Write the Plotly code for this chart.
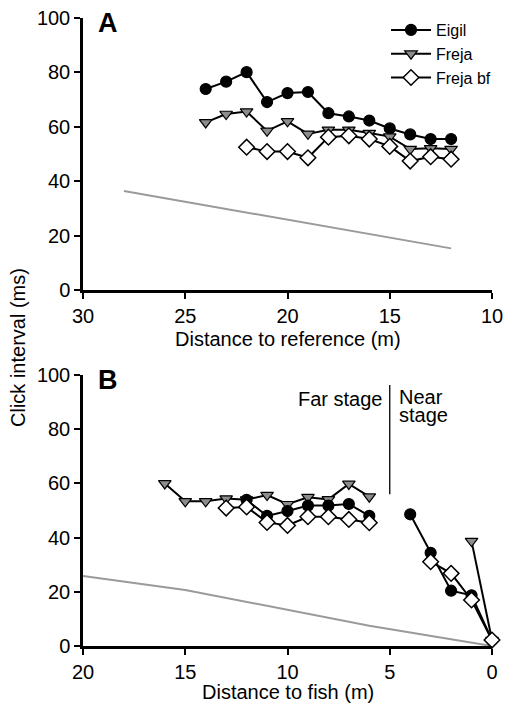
import plotly.graph_objects as go

# ---------------- Data ----------------
# Panel A: distance to reference (m)
a_eigil_x = [24, 23, 22, 21, 20, 19, 18, 17, 16, 15, 14, 13, 12]
a_eigil_y = [73.9, 76.6, 80.1, 69.1, 72.4, 72.8, 65.0, 63.8, 62.3, 59.4, 57.2, 55.5, 55.5]
a_freja_x = [24, 23, 22, 21, 20, 19, 18, 17, 16, 15, 14, 13, 12]
a_freja_y = [61.6, 64.7, 65.6, 58.5, 62.0, 57.4, 58.9, 58.9, 57.7, 56.4, 51.8, 52.1, 51.8]
a_frejabf_x = [22, 21, 20, 19, 18, 17, 16, 15, 14, 13, 12]
a_frejabf_y = [52.5, 50.9, 50.9, 48.6, 56.2, 56.7, 55.5, 52.8, 47.4, 49.0, 48.1]
a_ref_x = [28, 20, 12]
a_ref_y = [36.4, 25.8, 15.3]

# Panel B: distance to fish (m)
b_eigil_x = [12, 11, 10, 9, 8, 7, 6, None, 4, 3, 2, 1, 0]
b_eigil_y = [53.9, 48.0, 49.8, 51.8, 51.8, 52.4, 48.0, None, 48.6, 34.4, 20.4, 18.7, 2.2]
b_freja_x = [16, 15, 14, 13, 12, 11, 10, 9, 8, 7, 6, None, 1, 0]
b_freja_y = [60.0, 53.4, 53.4, 54.4, 54.0, 55.7, 52.3, 54.9, 54.1, 59.8, 55.1, None, 38.7, 2.2]
b_frejabf_x = [13, 12, 11, 10, 9, 8, 7, 6, None, 3, 2, 1, 0]
b_frejabf_y = [50.9, 51.3, 45.6, 44.5, 47.7, 47.7, 46.7, 45.5, None, 31.1, 26.8, 17.0, 2.2]
b_ref_x = [20, 15, 6, 0]
b_ref_y = [25.8, 20.7, 7.5, 0.0]

stage_x = [5, 5]
stage_y = [56, 96.3]

y_ticks = [0, 20, 40, 60, 80, 100]
a_x_ticks = [30, 25, 20, 15, 10]
b_x_ticks = [20, 15, 10, 5, 0]

# ---------------- Styles ----------------
FONT = "Liberation Sans, Arial, Helvetica, sans-serif"
W, H = 506, 706
LINE_W = 2

circle_m = dict(symbol="circle", size=11, color="black", line=dict(color="black", width=1.2))
tri_m = dict(symbol="triangle-down", size=11, color="#8c8c8c", line=dict(color="black", width=1.2))
dia_m = dict(symbol="diamond", size=12, color="white", line=dict(color="black", width=1.5))

fig = go.Figure()

def add(x, y, marker, name, xa, ya, show):
    fig.add_trace(go.Scatter(
        x=x, y=y, mode="lines+markers", name=name, marker=marker,
        line=dict(color="black", width=LINE_W), xaxis=xa, yaxis=ya,
        showlegend=show, cliponaxis=False, connectgaps=False))

# reference gray lines
fig.add_trace(go.Scatter(x=a_ref_x, y=a_ref_y, mode="lines", line=dict(color="#9a9a9a", width=2),
                         xaxis="x", yaxis="y", showlegend=False, hoverinfo="skip"))
fig.add_trace(go.Scatter(x=b_ref_x, y=b_ref_y, mode="lines", line=dict(color="#9a9a9a", width=2),
                         xaxis="x2", yaxis="y2", showlegend=False, hoverinfo="skip", cliponaxis=False))

# Panel A (legend order Eigil, Freja, Freja bf)
add(a_eigil_x, a_eigil_y, circle_m, "Eigil", "x", "y", True)
add(a_freja_x, a_freja_y, tri_m, "Freja", "x", "y", True)
add(a_frejabf_x, a_frejabf_y, dia_m, "Freja bf", "x", "y", True)

# Panel B (draw order: Freja, Eigil, Freja bf)
add(b_freja_x, b_freja_y, tri_m, "Freja", "x2", "y2", False)
add(b_eigil_x, b_eigil_y, circle_m, "Eigil", "x2", "y2", False)
add(b_frejabf_x, b_frejabf_y, dia_m, "Freja bf", "x2", "y2", False)

# stage divider
fig.add_trace(go.Scatter(x=stage_x, y=stage_y, mode="lines", line=dict(color="black", width=1.3),
                         xaxis="x2", yaxis="y2", showlegend=False, hoverinfo="skip"))

xdom = [83 / W, 492 / W]
ydomA = [1 - 290 / H, 1 - 18 / H]
ydomB = [1 - 646 / H, 1 - 375 / H]

axis_common = dict(showline=True, linecolor="black", linewidth=2.5, ticks="outside",
                   ticklen=6, tickwidth=2, tickcolor="black", showgrid=False, zeroline=False,
                   automargin=False,
                   tickfont=dict(family=FONT, size=20, color="black"))

fig.update_layout(
    width=W, height=H,
    margin=dict(l=0, r=0, t=0, b=0),
    paper_bgcolor="white", plot_bgcolor="white",
    font=dict(family=FONT, color="black"),
    xaxis=dict(domain=xdom, anchor="y", range=[30, 10], tickvals=a_x_ticks, **axis_common),
    yaxis=dict(domain=ydomA, anchor="x", range=[0, 100], tickvals=y_ticks, **axis_common),
    xaxis2=dict(domain=xdom, anchor="y2", range=[20, 0], tickvals=b_x_ticks, **axis_common),
    yaxis2=dict(domain=ydomB, anchor="x2", range=[0, 100], tickvals=y_ticks, **axis_common),
    legend=dict(x=386 / W, y=1 - 13 / H, xanchor="left", yanchor="top",
                font=dict(family=FONT, size=16, color="black"), bgcolor="rgba(0,0,0,0)",
                tracegroupgap=0, itemwidth=40),
    showlegend=True,
)

ann = [
    dict(text="A", x=96 / W, y=1 - 23 / H, xanchor="left", yanchor="middle",
         font=dict(size=27, family=FONT, color="black", weight="bold")),
    dict(text="B", x=96 / W, y=1 - 380 / H, xanchor="left", yanchor="middle",
         font=dict(size=27, family=FONT, color="black", weight="bold")),
    dict(text="Distance to reference (m)", x=(83 + 492) / 2 / W, y=1 - 339 / H,
         xanchor="center", yanchor="middle", font=dict(size=20, family=FONT, color="black")),
    dict(text="Distance to fish (m)", x=(83 + 492) / 2 / W, y=1 - 692 / H,
         xanchor="center", yanchor="middle", font=dict(size=20, family=FONT, color="black")),
    dict(text="Click interval (ms)", x=18 / W, y=1 - 348 / H, textangle=-90,
         xanchor="center", yanchor="middle", font=dict(size=20, family=FONT, color="black")),
]
for a in ann:
    a.update(xref="paper", yref="paper", showarrow=False)
    fig.add_annotation(**a)

stage_font = dict(size=20, family=FONT, color="black")
fig.add_annotation(text="Far stage", x=5, y=91.1, xref="x2", yref="y2", xanchor="right",
                   xshift=-6, yanchor="middle", showarrow=False, font=stage_font)
fig.add_annotation(text="Near", x=5, y=91.9, xref="x2", yref="y2", xanchor="left",
                   xshift=7, yanchor="middle", showarrow=False, font=stage_font)
fig.add_annotation(text="stage", x=5, y=85.2, xref="x2", yref="y2", xanchor="left",
                   xshift=7, yanchor="middle", showarrow=False, font=stage_font)

fig.write_html("out.html", config={"displayModeBar": False},
               post_script="document.body.style.margin='0';document.body.style.overflow='hidden';")
